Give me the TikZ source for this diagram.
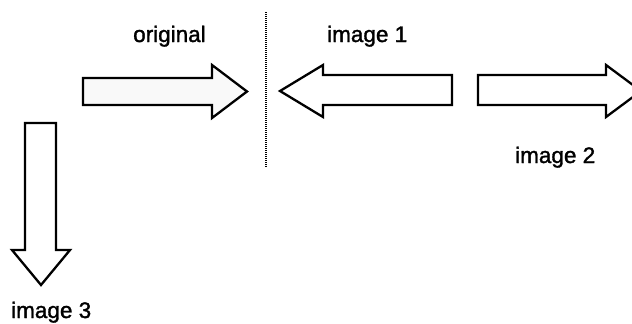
\documentclass[tikz,border=0pt]{standalone}
\usepackage{fontspec}
\setmainfont{Liberation Sans}
\begin{document}
\begin{tikzpicture}[x=1pt,y=-1pt,
  arrowshape/.style={draw=black,line width=2.3pt,line join=miter,fill=white},
  label/.style={font=\fontsize{22.5}{26}\selectfont\addfontfeature{FakeBold=1.5},
    inner sep=0pt,anchor=base west},
  divider/.style={line width=1.3pt,dash pattern=on 1pt off 1pt}]
\useasboundingbox (0,0) rectangle (632,324);
% original (lightly speckled fill)
\draw[arrowshape,fill=gray!5] (83,78) -- (212,78) -- (212,65) -- (247,91.5) -- (212,118)
  -- (212,105) -- (83,105) -- cycle;
\node[label] (orig) at (133,42) {original};
% vertical divider
\coordinate (dtop) at (266,12);
\coordinate (dbot) at (266,168);
\draw[divider] (dtop) -- (dbot);
% image 1: pointing left
\draw[arrowshape] (452,75) -- (323,75) -- (323,65) -- (280,91) -- (323,117)
  -- (323,105) -- (452,105) -- cycle;
\node[label] (img1) at (327,42) {image 1};
% image 2: pointing right
\draw[arrowshape] (478,75) -- (606,75) -- (606,65) -- (641,91) -- (606,117)
  -- (606,105) -- (478,105) -- cycle;
\node[label] (img2) at (515,163) {image 2};
% image 3: pointing down
\draw[arrowshape] (25,123) -- (25,250) -- (12,250) -- (41,285) -- (70,250)
  -- (56,250) -- (56,123) -- cycle;
\node[label] (img3) at (11,318) {image 3};
\end{tikzpicture}
\end{document}
